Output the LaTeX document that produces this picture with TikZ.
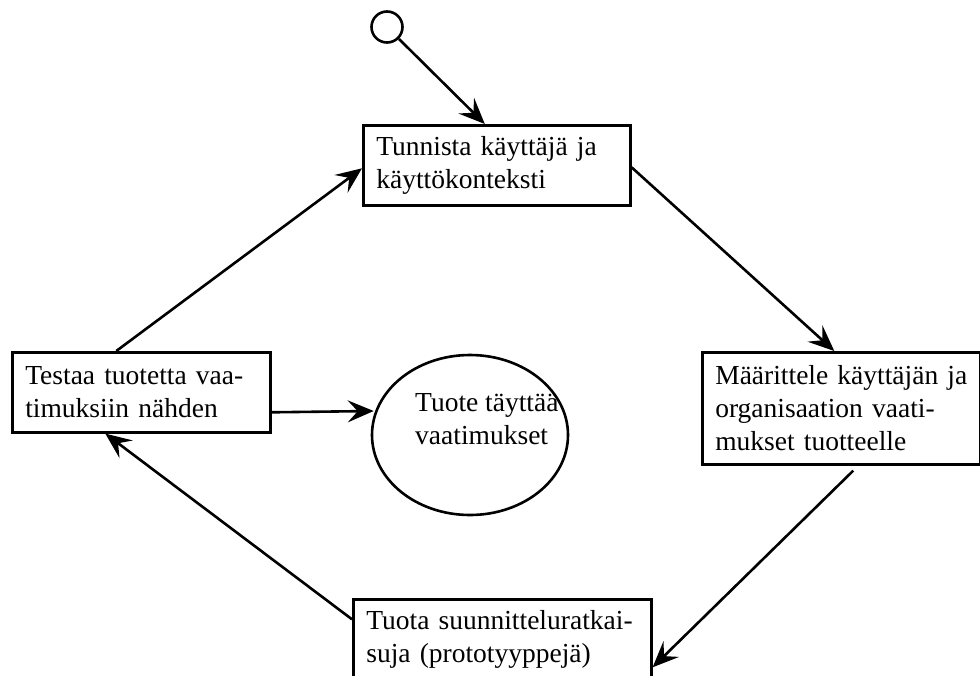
\documentclass[tikz,border=0pt]{standalone}
\usepackage{fontspec}
\setmainfont{Liberation Serif}
\usetikzlibrary{arrows.meta,calc,shapes.geometric}
\begin{document}
\begin{tikzpicture}[x=1pt,y=-1pt,
  every node/.style={font=\fontsize{27.5}{33}\selectfont},
  stepbox/.style={draw, line width=2.6pt, anchor=north west, align=left,
    inner xsep=13pt, inner ysep=0pt},
  goalshape/.style={draw, ellipse, line width=2.6pt, inner sep=0pt,
    minimum width=196pt, minimum height=160pt},
  startdot/.style={draw, circle, line width=2.6pt, inner sep=0pt, minimum size=31pt},
  conn/.style={line width=2.6pt, -{Stealth[length=26pt,width=22pt,inset=10pt]}}
]
\clip (0,0) rectangle (980,675);

% start marker
\node[startdot] (start) at (387,27) {};

% process steps
\node[stepbox, minimum width=267pt, text width=241pt, minimum height=80pt]
  (ident) at (362,124) {\mbox{Tunnista käyttäjä ja}\\käyttökonteksti};
\node[stepbox, minimum width=278pt, text width=252pt, minimum height=112pt]
  (reqs) at (701,351) {\mbox{Määrittele käyttäjän ja}\\\mbox{organisaation vaati-}\\mukset tuotteelle};
\node[stepbox, minimum width=298pt, text width=272pt, minimum height=80pt]
  (design) at (352,598) {\mbox{Tuota suunnitteluratkai-}\\suja (prototyyppejä)};
\node[stepbox, minimum width=258pt, text width=232pt, minimum height=80pt]
  (test) at (11,351) {\mbox{Testaa tuotetta vaa-}\\timuksiin nähden};

% end state
\node[goalshape] (goal) at (470,435) {};
\node[anchor=north west, inner sep=0pt, align=left] (goaltext) at (415,393)
  {Tuote täyttää\\vaatimukset};

% cycle connectors
\draw[conn] (start.-45) -- ($(ident.north)+(-12,0)$);
\draw[conn] ($(ident.east)+(0,2)$) -- ($(reqs.north)+(-7,0)$);
\draw[conn] ($(reqs.south)+(12,5)$) -- ($(design.east)+(0,28)$);
\draw[conn] ($(design.west)+(0,-20)$) -- ($(test.south)+(-36,0)$);
\draw[conn] ($(test.north)+(-25,0)$) -- ($(ident.west)+(0,3)$);
\draw[conn] ($(test.east)+(0,20)$) -- ($(goal.west)+(3,-24)$);
\end{tikzpicture}
\end{document}
